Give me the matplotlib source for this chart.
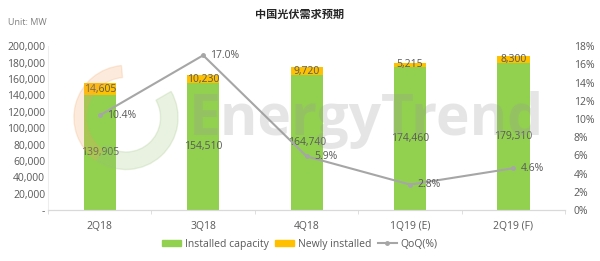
import matplotlib
matplotlib.use('Agg')
import matplotlib.pyplot as plt
from matplotlib.ticker import FuncFormatter
from matplotlib.patches import Patch, Wedge
from matplotlib.lines import Line2D
import numpy as np

plt.rcParams['font.family'] = ['Open Sans', 'Noto Sans CJK SC', 'DejaVu Sans']

# ── Data ──────────────────────────────────────────────────────────────────
quarters   = ['2Q18', '3Q18', '4Q18', '1Q19 (E)', '2Q19 (F)']
installed  = [139905, 154510, 164740, 174460, 179310]
newly      = [14605, 10230, 9720, 5215, 8300]
qoq        = [10.4, 17.0, 5.9, 2.8, 4.6]

GREEN  = '#92D050'
ORANGE = '#FFC000'
GREY   = '#A6A6A6'
TXT    = '#595959'

fig = plt.figure(figsize=(6, 2.61), dpi=100)
ax = fig.add_axes([0.08, 0.195, 0.862, 0.628])
ax2 = ax.twinx()

x = np.arange(len(quarters))
w = 0.31
ax.bar(x, installed, w, color=GREEN, zorder=2)
ax.bar(x, newly, w, bottom=installed, color=ORANGE, zorder=2)

for xi, g, n in zip(x, installed, newly):
    ax.text(xi, g / 2, f'{g:,}', ha='center', va='center', fontsize=7.5, color=TXT, zorder=4)
    ax.text(xi, g + n / 2, f'{n:,}', ha='center', va='center', fontsize=7.5, color=TXT, zorder=4)

ax.set_ylim(0, 200000)
ax.set_yticks(np.arange(0, 200001, 20000))
ax.yaxis.set_major_formatter(FuncFormatter(lambda v, p: '-' if v == 0 else f'{int(v):,}'))
ax.set_xlim(-0.5, len(quarters) - 0.5)
ax.set_xticks(x)
ax.set_xticklabels(quarters)
ax.set_xticks(np.arange(-0.5, len(quarters), 1), minor=True)
ax.tick_params(axis='x', which='major', length=0, pad=8, labelsize=7.5, colors=TXT)
ax.tick_params(axis='x', which='minor', length=3, color='#D9D9D9')
ax.tick_params(axis='y', length=0, labelsize=7.5, colors=TXT, pad=2)

ax2.plot(x, qoq, color=GREY, lw=1.5, marker='o', ms=2.5, zorder=3, label='QoQ(%)')
for xi, q in zip(x, qoq):
    ax2.text(xi + 0.07, q, f'{q:.1f}%', ha='left', va='center', fontsize=7.5, color=TXT)
ax2.set_ylim(0, 18)
ax2.set_yticks(np.arange(0, 19, 2))
ax2.yaxis.set_major_formatter(FuncFormatter(lambda v, p: f'{int(v)}%'))
ax2.tick_params(axis='y', length=0, labelsize=7.5, colors=TXT, pad=6)

for a in (ax, ax2):
    for s in ('top', 'right', 'left'):
        a.spines[s].set_visible(False)
    a.spines['bottom'].set_color('#D9D9D9')
ax.spines['left'].set_visible(True)
ax.spines['left'].set_color('#EDEDED')

# watermark (logo ring + word)
lg = fig.add_axes([0.115, 0.34, 0.19, 0.42], zorder=5)
lg.set_aspect('equal'); lg.axis('off')
lg.set_xlim(-1, 1); lg.set_ylim(-1, 1)
lg.add_patch(Wedge((0, 0), 0.95, 95, 235, width=0.22, color='#F4A460', alpha=0.22))
lg.add_patch(Wedge((0, 0), 0.95, 235, 30, width=0.32, color='#9BC27A', alpha=0.22))
fig.text(0.61, 0.54, 'EnergyTrend', fontsize=41, color='#9A9A9A', alpha=0.25,
         ha='center', va='center', fontweight='bold', zorder=5)

fig.text(0.5, 0.945, '中国光伏需求预期', ha='center', va='center', fontsize=8,
         fontweight='bold', color='#262626', family=['Noto Sans CJK SC', 'DejaVu Sans'])
fig.text(0.013, 0.915, 'Unit: MW', ha='left', va='center', fontsize=6.5, color='#7F7F7F')

handles = [Patch(color=GREEN, label='Installed capacity'),
           Patch(color=ORANGE, label='Newly installed'),
           Line2D([0], [0], color=GREY, lw=1.5, marker='o', ms=2.5, label='QoQ(%)')]
fig.legend(handles=handles, loc='center', bbox_to_anchor=(0.5, 0.065), ncol=3, frameon=False,
           fontsize=7.5, labelcolor=TXT, handlelength=1.8, handleheight=0.6,
           columnspacing=0.6, handletextpad=0.4)

fig.savefig('out.png', dpi=100, facecolor='white')
